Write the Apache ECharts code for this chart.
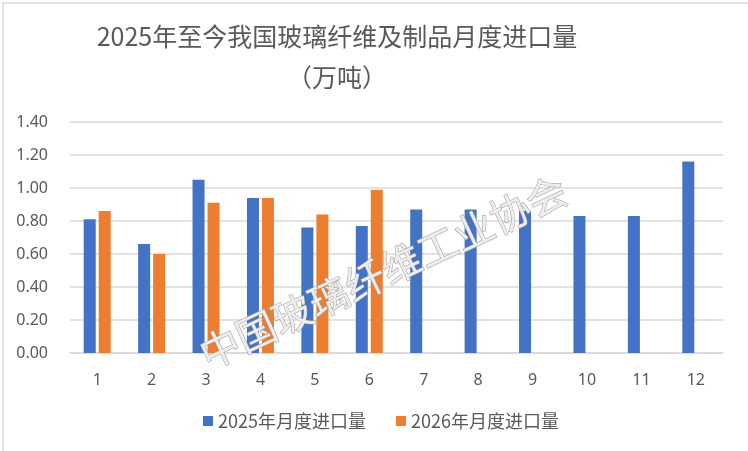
<!DOCTYPE html>
<html>
<head>
<meta charset="utf-8">
<script src="https://cdn.jsdelivr.net/npm/echarts@6/dist/echarts.min.js"></script>
<style>
  html, body { margin: 0; padding: 0; background: #fff; }
  #chart { width: 748px; height: 451px; }
</style>
</head>
<body>
<div id="chart"></div>
<script>
const months = ['1', '2', '3', '4', '5', '6', '7', '8', '9', '10', '11', '12'];
const imports2025 = [0.81, 0.66, 1.05, 0.94, 0.76, 0.77, 0.87, 0.87, 0.86, 0.83, 0.83, 1.16];
const imports2026 = [0.86, 0.60, 0.91, 0.94, 0.84, 0.99];
const yTicks = { min: 0, max: 1.4, interval: 0.2 };

const titleText = '2025年至今我国玻璃纤维及制品月度进口量\n（万吨）';
const watermark = '中国玻璃纤维工业协会';

const FONT = '"Noto Sans CJK SC", "Noto Sans", sans-serif';
const TEXT = '#595959';

const chart = echarts.init(document.getElementById('chart'));

chart.setOption({
  animation: false,
  backgroundColor: '#fff',
  textStyle: { fontFamily: FONT },
  grid: { left: 70, right: 25, top: 122, bottom: 98 },
  legend: {
    left: 198,
    top: 407,
    itemWidth: 10,
    itemHeight: 10,
    itemGap: 30,
    icon: 'rect',
    textStyle: { fontSize: 18, color: TEXT, fontFamily: FONT }
  },
  xAxis: {
    type: 'category',
    data: months,
    axisLine: { lineStyle: { color: '#d9d9d9', width: 1.5 } },
    axisTick: { show: false },
    axisLabel: { color: TEXT, fontSize: 16, margin: 19, fontFamily: '"Noto Sans", sans-serif' }
  },
  yAxis: {
    type: 'value',
    min: yTicks.min,
    max: yTicks.max,
    interval: yTicks.interval,
    axisLine: { show: false },
    axisTick: { show: false },
    splitLine: { lineStyle: { color: '#d9d9d9', width: 1.5 } },
    axisLabel: {
      color: TEXT, fontSize: 16, margin: 22, fontFamily: '"Noto Sans", sans-serif',
      formatter: v => v.toFixed(2)
    }
  },
  series: [
    {
      name: '2025年月度进口量',
      type: 'bar',
      data: imports2025,
      barWidth: 12,
      barGap: '25%',
      itemStyle: { color: '#4472C4' }
    },
    {
      name: '2026年月度进口量',
      type: 'bar',
      data: imports2026,
      barWidth: 12,
      itemStyle: { color: '#ED7D31' }
    }
  ],
  graphic: [
    {
      type: 'rect',
      left: 0.5, top: 0.5,
      shape: { width: 746, height: 449 },
      style: { fill: 'none', stroke: '#d9d9d9', lineWidth: 1.5 },
      silent: true
    },
    {
      type: 'text',
      x: 337, y: 16,
      style: {
        text: titleText,
        align: 'center',
        fill: TEXT,
        font: '25px ' + FONT,
        lineHeight: 41
      }
    },
    {
      type: 'text',
      x: 383, y: 272,
      rotation: 25 * Math.PI / 180,
      z: 100,
      style: {
        text: watermark,
        align: 'center',
        verticalAlign: 'middle',
        font: '40px ' + FONT,
        fill: '#ededed',
        stroke: '#9a9a9a',
        lineWidth: 1,
        shadowColor: 'rgba(0,0,0,0.4)',
        shadowBlur: 2,
        shadowOffsetX: 2,
        shadowOffsetY: 2
      },
      silent: true
    }
  ]
});
</script>
</body>
</html>
